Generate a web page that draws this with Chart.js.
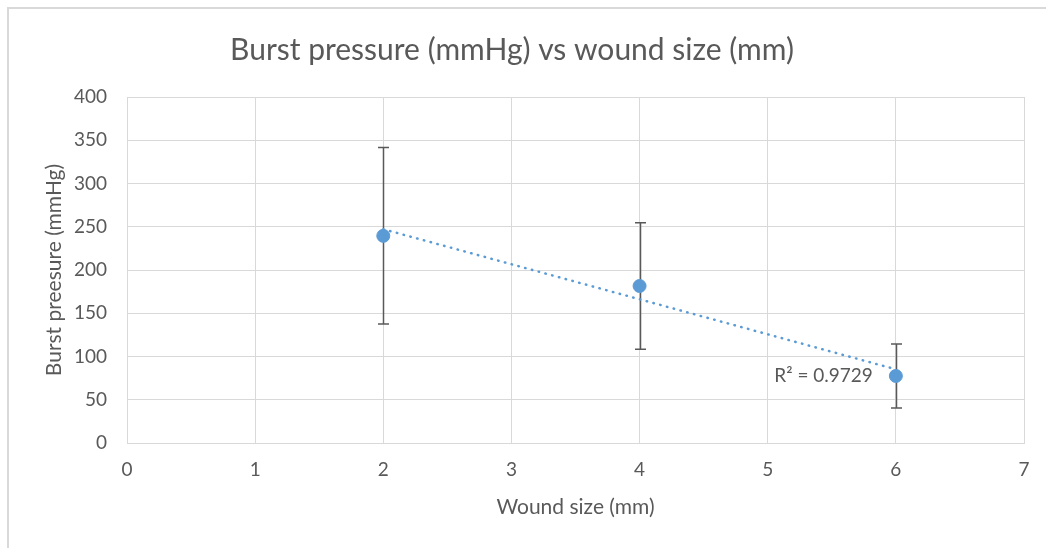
<!DOCTYPE html>
<html>
<head>
<meta charset="utf-8">
<script src="https://cdn.jsdelivr.net/npm/chart.js@4"></script>
<style>
  html, body { margin: 0; padding: 0; background: #fff; }
  #wrap { width: 1046px; height: 548px; position: relative; }
</style>
</head>
<body>
<div id="wrap"><canvas id="scatterChart" width="1046" height="548"></canvas></div>
<script>
const ctx = document.getElementById("scatterChart").getContext("2d");

const woundSize = [2, 4, 6];
const burstPressure = [239.5, 181.5, 77.5];
const errorSize = [102, 73, 37];
const rSquaredLabel = "R\u00b2 = 0.9729";

const textColor = "#595959";
const blue = "#5B9BD5";
const gridColor = "#D9D9D9";
const fontFamily = "Lato, 'Open Sans', sans-serif";

// least squares trendline over the data range
const n = woundSize.length;
const meanX = woundSize.reduce((a, b) => a + b, 0) / n;
const meanY = burstPressure.reduce((a, b) => a + b, 0) / n;
let sxy = 0, sxx = 0;
for (let i = 0; i < n; i++) {
  sxy += (woundSize[i] - meanX) * (burstPressure[i] - meanY);
  sxx += (woundSize[i] - meanX) ** 2;
}
const slope = sxy / sxx;
const intercept = meanY - slope * meanX;
const xMin = Math.min(...woundSize);
const xMax = Math.max(...woundSize);
const trendPoints = [
  { x: xMin, y: intercept + slope * xMin },
  { x: xMax, y: intercept + slope * xMax },
];

const frame = {
  id: "frame",
  beforeDraw(chart) {
    const c = chart.ctx;
    c.save();
    c.fillStyle = "#fff";
    c.fillRect(0, 0, chart.width, chart.height);
    c.strokeStyle = gridColor;
    c.lineWidth = 2;
    c.strokeRect(8, 8, chart.width + 20, chart.height + 20);
    c.restore();
  },
};

const errorBars = {
  id: "errorBars",
  beforeDatasetsDraw(chart) {
    const c = chart.ctx;
    const xs = chart.scales.x;
    const ys = chart.scales.y;
    c.save();
    c.strokeStyle = textColor;
    c.lineWidth = 1.5;
    woundSize.forEach((x, i) => {
      const px = Math.round(xs.getPixelForValue(x)) + 0.5;
      const top = ys.getPixelForValue(burstPressure[i] + errorSize[i]);
      const bot = ys.getPixelForValue(burstPressure[i] - errorSize[i]);
      c.beginPath();
      c.moveTo(px, top);
      c.lineTo(px, bot);
      c.moveTo(px - 5.5, top);
      c.lineTo(px + 5.5, top);
      c.moveTo(px - 5.5, bot);
      c.lineTo(px + 5.5, bot);
      c.stroke();
    });
    c.restore();
  },
};

const r2Label = {
  id: "r2Label",
  afterDatasetsDraw(chart) {
    const c = chart.ctx;
    const xs = chart.scales.x;
    const ys = chart.scales.y;
    const end = trendPoints[1];
    c.save();
    c.fillStyle = textColor;
    c.font = "19px " + fontFamily;
    c.textAlign = "right";
    c.textBaseline = "middle";
    c.fillText(rSquaredLabel, xs.getPixelForValue(end.x) - 23, ys.getPixelForValue(end.y) + 7);
    c.restore();
  },
};

const config = {
  type: "scatter",
  data: {
    datasets: [
      {
        label: "Burst pressure",
        data: woundSize.map((x, i) => ({ x: x, y: burstPressure[i] })),
        backgroundColor: blue,
        borderColor: blue,
        pointRadius: 6.5,
        pointHoverRadius: 6.5,
      },
      {
        label: "Linear trend",
        type: "line",
        data: trendPoints,
        borderColor: blue,
        borderWidth: 2.5,
        borderDash: [0.5, 6.5],
        borderCapStyle: "round",
        pointRadius: 0,
        fill: false,
      },
    ],
  },
  options: {
    responsive: false,
    animation: false,
    layout: { padding: { left: 0, right: 22, top: 0, bottom: 0 } },
    plugins: {
      legend: { display: false },
      tooltip: { enabled: false },
      title: {
        display: true,
        text: "Burst pressure (mmHg) vs wound size (mm)",
        color: textColor,
        font: { family: fontFamily, size: 30, weight: "normal" },
        padding: { top: 32, bottom: 29 },
      },
    },
    scales: {
      x: {
        type: "linear",
        min: 0,
        max: 7,
        ticks: { stepSize: 1, color: textColor, padding: 15, font: { family: fontFamily, size: 19 } },
        grid: { color: gridColor, drawTicks: false },
        border: { color: gridColor },
        title: {
          display: true,
          text: "Wound size (mm)",
          color: textColor,
          font: { family: fontFamily, size: 21 },
          padding: { top: 0, bottom: 28 },
        },
        afterFit(scale) { scale.height = 105; },
      },
      y: {
        min: 0,
        max: 400,
        ticks: { stepSize: 50, color: textColor, padding: 20, font: { family: fontFamily, size: 19 } },
        grid: { color: gridColor, drawTicks: false },
        border: { color: gridColor },
        title: {
          display: true,
          text: "Burst preesure (mmHg)",
          color: textColor,
          font: { family: fontFamily, size: 21 },
          padding: { top: 42, bottom: 0 },
        },
        afterFit(scale) { scale.width = 127; },
      },
    },
  },
  plugins: [frame, errorBars, r2Label],
};

const myChart = new Chart(ctx, config);
</script>
</body>
</html>
